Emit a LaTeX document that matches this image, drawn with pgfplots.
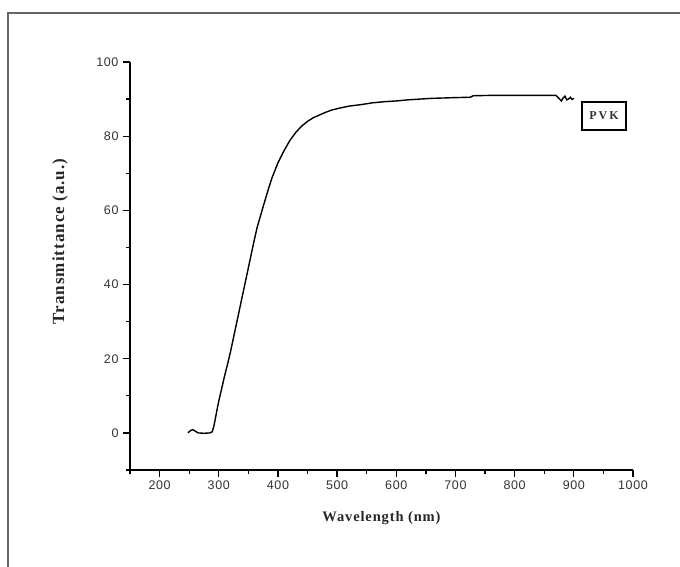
\documentclass[border=0pt]{standalone}
\usepackage{pgfplots}
\pgfplotsset{compat=1.18}
\usepackage{fontspec}
\setmainfont{Liberation Serif}
\newfontfamily\ticksf[LetterSpace=5]{Liberation Sans}
\newfontfamily\labelserif[LetterSpace=6]{Liberation Serif}
\newfontfamily\ylabserif[LetterSpace=6]{Liberation Serif}
\pgfplotstableread{
x y
248 0.0
252 0.6
256 0.9
260 0.5
265 0.0
275 -0.1
285 0.0
289 0.3
292 2.0
295 4.5
298 7.0
301 9.3
305 12.0
310 15.5
315 18.6
320 22.0
330 29.5
340 37.0
350 44.5
360 52.0
365 55.5
375 61.0
383 65.3
390 68.8
400 72.8
410 76.0
420 78.8
430 81.0
440 82.7
450 84.0
460 85.0
470 85.7
480 86.4
490 87.0
505 87.6
520 88.1
540 88.5
560 89.0
580 89.3
600 89.5
620 89.8
640 90.0
660 90.2
700 90.4
725 90.5
730 90.9
760 91.0
800 91.0
840 91.0
870 91.0
873 90.5
876 90.0
879 89.5
882 90.3
885 90.8
888 89.8
891 90.0
894 90.5
897 89.9
900 90.2
}\pvkdata
\begin{document}
\begin{tikzpicture}[x=1pt,y=1pt]
\begin{axis}[
  at={(130pt,96pt)}, anchor=south west,
  scale only axis, width=503pt, height=408pt,
  axis lines*=left,
  xmin=150, xmax=1000, ymin=-10, ymax=100,
  xtick={200,300,...,1000},
  minor xtick={150,250,...,950},
  ytick={0,20,...,100},
  minor ytick={-10,10,30,50,70,90},
  tick align=outside,
  major tick length=7pt, minor tick length=4pt,
  axis line style={black, line width=1.5pt},
  every tick/.style={black, line width=1.3pt},
  /pgf/number format/1000 sep={},
  /pgf/number format/assume math mode=true,
  ticklabel style={font=\ticksf\fontsize{12.5}{13}\selectfont, text=black!80},
  yticklabel style={xshift=-1pt},
  xlabel={\labelserif\bfseries\fontsize{14.5}{15}\selectfont Wavelength (nm)},
  xlabel style={at={(axis description cs:0.5,-0.118)}, anchor=center, text=black!85},
  ylabel={\ylabserif\bfseries\fontsize{17}{18}\selectfont Transmittance (a.u.)},
  ylabel style={at={(axis description cs:-0.139,0.56)}, anchor=center, text=black!85},
]
\addplot[black, line width=1.4pt] table[x=x,y=y]{\pvkdata};
\node[draw, line width=1.4pt, minimum width=44pt, minimum height=28pt, inner sep=0pt,
  font=\bfseries\fontsize{12}{13}\selectfont, text=black!80] at (axis cs:951,85.4) {P\,V\,K};
\end{axis}
\draw[line width=2pt, black!60] (8,-20) -- (8,553) -- (700,553);
\pgfresetboundingbox
\useasboundingbox (0,0) rectangle (680,566);
\end{tikzpicture}
\end{document}
